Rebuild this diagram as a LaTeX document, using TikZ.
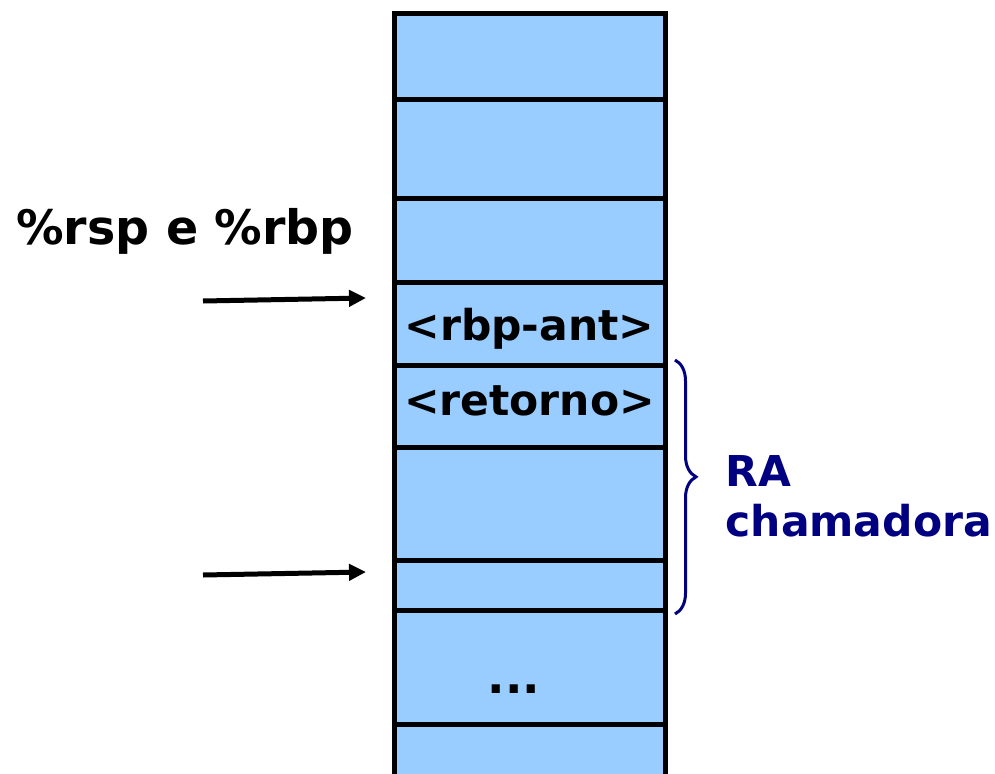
\documentclass[tikz,border=0pt]{standalone}
\usepackage{fontspec}
\setmainfont{DejaVu Sans}
\usetikzlibrary{positioning,decorations.pathreplacing,arrows.meta}
\definecolor{celula}{HTML}{99CCFF}
\definecolor{marinho}{HTML}{000080}
\tikzset{
   cell/.style={draw, line width=5pt, fill=celula, minimum width=271pt,
      outer sep=0pt, inner sep=0pt, font=\fontsize{42.5}{50}\selectfont\bfseries},
   seta/.style={-{Triangle[length=17pt,width=16pt]}, line width=5pt}
}
\begin{document}
\begin{tikzpicture}[x=1pt, y=-1pt, node distance=0pt]
   \useasboundingbox (0,0) rectangle (995,773);
   \node[cell, minimum height=86pt] (A) at (529.5,57) {};
   \node[cell, minimum height=98pt,  below=of A] (B) {};
   \node[cell, minimum height=84pt,  below=of B] (C) {};
   \node[cell, minimum height=83pt,  below=of C, text height=43pt] (D) {<rbp-ant>};
   \node[cell, minimum height=82pt,  below=of D, text depth=10pt] (E) {<retorno>};
   \node[cell, minimum height=113pt, below=of E] (F) {};
   \node[cell, minimum height=50pt,  below=of F] (G) {};
   \node[cell, minimum height=114pt, below=of G] (H) {};
   \node[cell, minimum height=70pt,  below=of H] (I) {};
   \node[font=\fontsize{46}{50}\selectfont\bfseries] (P) at (514,689) {...};
   \node[font=\fontsize{47.5}{55}\selectfont\bfseries] (R) at (185,231) {\%rsp e \%rbp};
   \coordinate (S1) at (203,301);
   \coordinate (S2) at (203,575);
   \draw[seta] (S1) -- ([xshift=-28pt,yshift=-16pt]D.north west);
   \draw[seta] (S2) -- ([xshift=-28pt,yshift=-12pt]G.north west);
   \draw[marinho, line width=3pt, decorate,
      decoration={brace, amplitude=21pt, aspect=0.46}]
      ([xshift=10pt,yshift=5pt]E.north east) -- ([xshift=10pt,yshift=-4pt]H.north east);
   \node[marinho, font=\fontsize{42.5}{50}\selectfont\bfseries, align=left, anchor=west]
      (L) at (722,496) {RA\\chamadora};
\end{tikzpicture}
\end{document}
